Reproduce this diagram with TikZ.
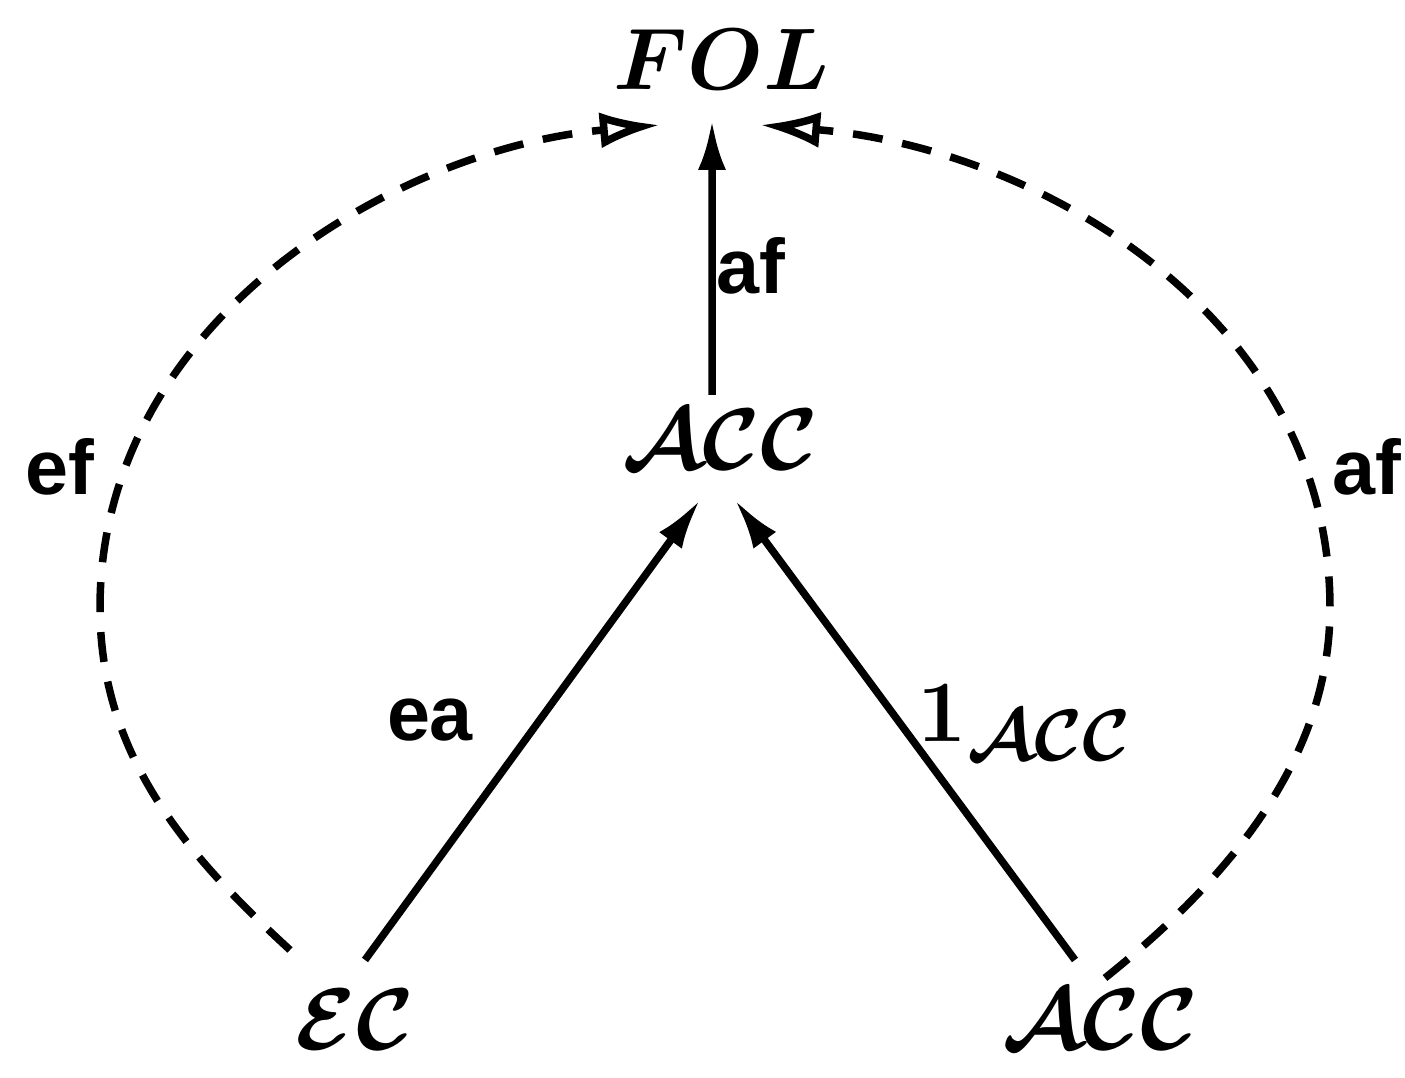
\documentclass[tikz,border=0pt]{standalone}
\usepackage{fontspec}
\newfontfamily\lblfont{Liberation Sans}
\usetikzlibrary{arrows.meta,calc}
\begin{document}
\begin{tikzpicture}[
 obj/.style={inner sep=0pt, anchor=base, font=\fontsize{28}{34}\selectfont\boldmath},
 lbl/.style={inner sep=0pt, font=\lblfont\bfseries\fontsize{22}{26}\selectfont},
 sol/.style={line width=0.75mm, -{Latex[length=5mm,width=2.8mm]}},
 dsh/.style={line width=0.75mm, dash pattern=on 3mm off 2mm, -{Latex[open,length=6mm,width=3.6mm]}},
]
\useasboundingbox (0,0) rectangle (14.05,10.78);
\node[obj] (fol) at (7.22,9.88) {$FOL$};
\node[obj] (acc) at (7.20,6.08) {$\mathcal{ACC}$};
\node[obj] (ec) at (3.55,0.28) {$\mathcal{EC}$};
\node[obj] (acc2) at (11.00,0.28) {$\mathcal{ACC}$};
% solid arrows
\draw[sol] ([shift={(-0.08,0.75)}]acc.base) -- ([shift={(-0.10,-0.30)}]fol.base)
  node[lbl, pos=0.47, right=0.28] (laf) {af};
\draw[sol] ([shift={(0.10,0.90)}]ec.base) -- ([shift={(-0.20,-0.30)}]acc.base);
\draw[sol] ([shift={(-0.25,0.90)}]acc2.base) -- ([shift={(0.15,-0.30)}]acc.base);
\node[lbl] (lea) at (4.30,3.58) {ea};
\node[obj, anchor=center] (lid) at (10.25,3.55) {$1_{\mathcal{ACC}}$};
% dashed arrows
\coordinate (ml) at (1.00,4.70);
\coordinate (mr) at (13.30,4.70);
\draw[dsh] ([shift={(-0.65,1.00)}]ec.base) .. controls (1.9,2.2) and (1.0,3.2) .. (ml)
  .. controls (1.0,7.6) and (4.0,9.3) .. ([shift={(-0.62,-0.35)}]fol.base);
\draw[dsh] ([shift={(0.05,0.72)}]acc2.base) .. controls (12.3,2.0) and (13.3,3.2) .. (mr)
  .. controls (13.3,7.6) and (10.4,9.3) .. ([shift={(0.38,-0.35)}]fol.base);
\node[lbl] (lef) at (0.60,6.11) {ef};
\node[lbl] (laf2) at (13.67,6.11) {af};
\end{tikzpicture}
\end{document}
